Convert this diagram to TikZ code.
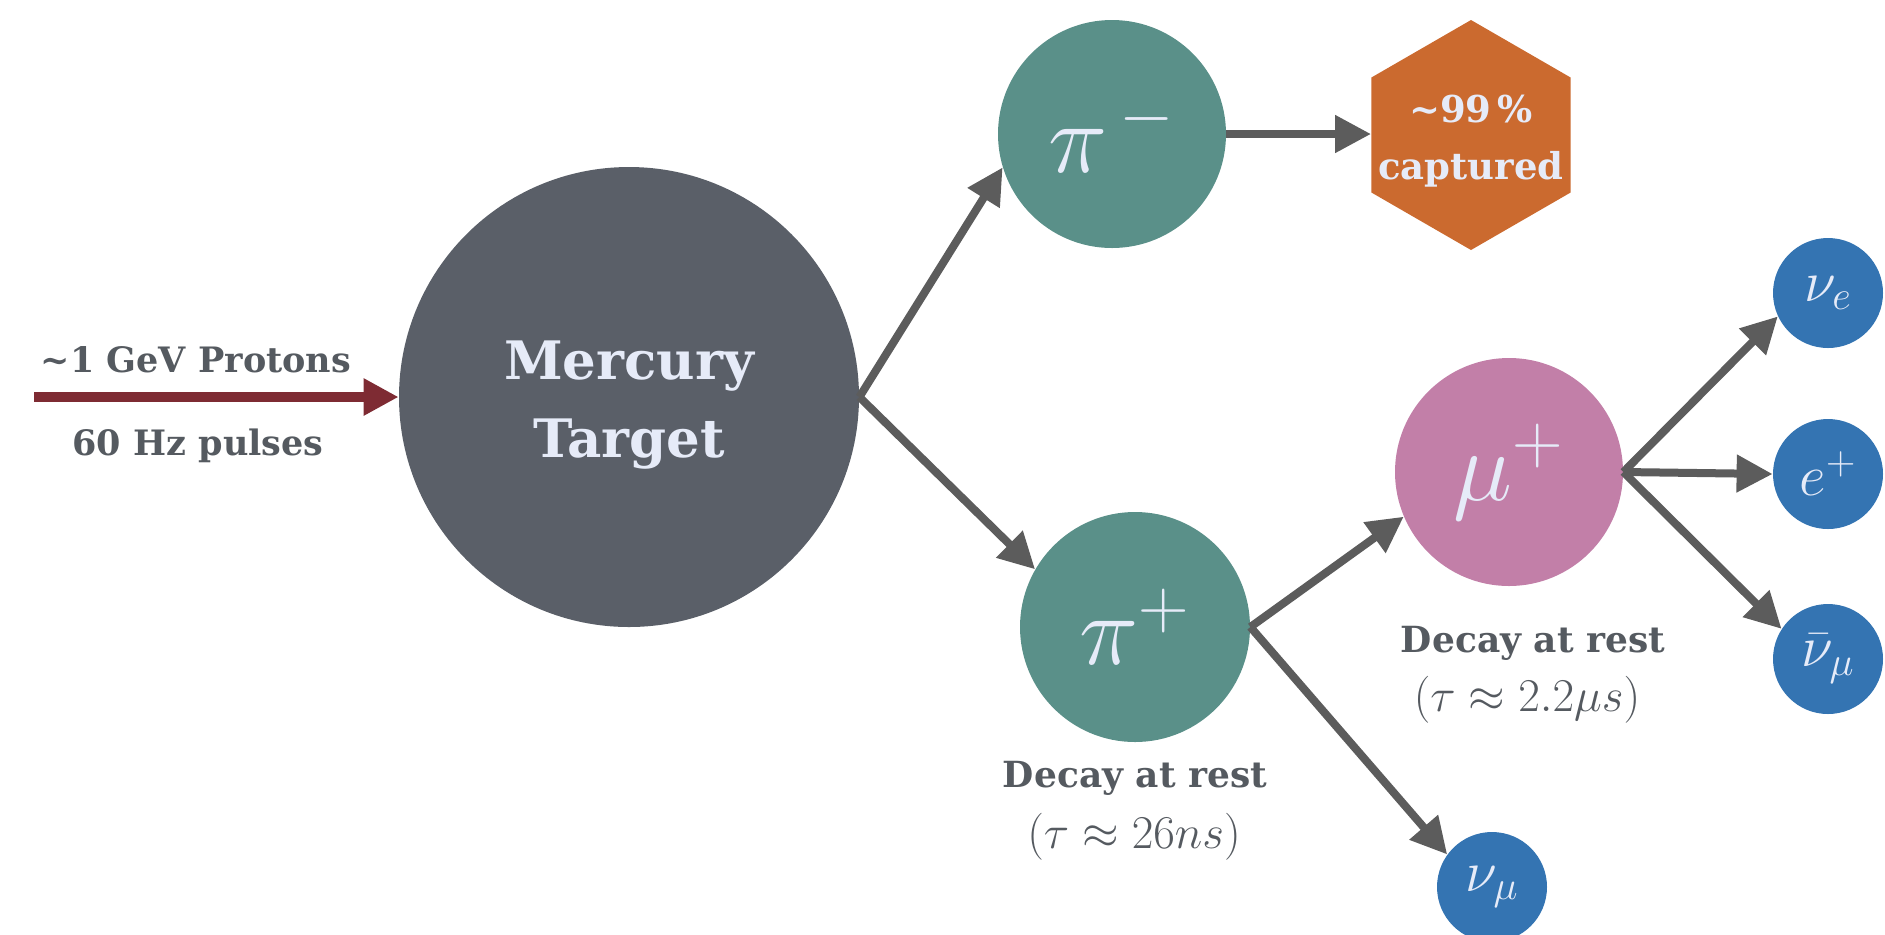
\RequirePackage{fix-cm}
\documentclass[tikz,border=0pt]{standalone}
\usepackage[no-math]{fontspec}
\setmainfont{DejaVu Serif}
\usetikzlibrary{arrows.meta}
\definecolor{mercfill}{HTML}{5A5F68}
\definecolor{tealfill}{HTML}{5A9089}
\definecolor{orangefill}{HTML}{CB6A2F}
\definecolor{pinkfill}{HTML}{C27FA8}
\definecolor{bluefill}{HTML}{3474B2}
\definecolor{arrgrey}{HTML}{5C5C5C}
\definecolor{redarr}{HTML}{7E2B33}
\definecolor{labgrey}{HTML}{555A60}
\definecolor{inktext}{HTML}{E6EBF8}
\begin{document}
\begin{tikzpicture}[x=0.5pt,y=-0.5pt,
  ball/.style={circle,inner sep=0pt,text=inktext},
  bigsym/.style={font=\fontsize{50}{50}\selectfont},
  smallsym/.style={font=\fontsize{29}{29}\selectfont},
  conn/.style={draw=arrgrey,line width=4pt,-{Triangle[length=18pt,width=18pt]}},
  lbl/.style={text=labgrey,inner sep=0pt,anchor=base},
  lbltext/.style={lbl,font=\fontsize{18}{18}\selectfont\bfseries},
  lblmath/.style={lbl,font=\fontsize{23.5}{23.5}\selectfont}]
\useasboundingbox (0,0) rectangle (1885,934);

% nodes
\node[ball,fill=mercfill,minimum size=230pt] (merc) at (629,397) {};
\node[text=inktext,align=center,inner sep=0pt,
      font=\fontsize{26.5}{39}\selectfont\bfseries] (mtxt) at (629,405) {Mercury\\Target};
\node[ball,fill=tealfill,minimum size=114pt,bigsym] (pim) at (1112,134) {$\pi^{\,-}$};
\coordinate (hexc) at (1471,135);
\fill[orangefill,shift={(hexc)}] (0,-115) -- (99.6,-57.5) -- (99.6,57.5) -- (0,115)
      -- (-99.6,57.5) -- (-99.6,-57.5) -- cycle;
\node[inner sep=0pt,minimum width=99.6pt,text=inktext,align=center,
      font=\fontsize{18.5}{28.5}\selectfont\bfseries] (hex) at (1471,141) {\textasciitilde99\,\%\\captured};
\node[ball,fill=tealfill,minimum size=115pt,bigsym] (pip) at (1135,627) {$\pi^{+}$};
\node[ball,fill=pinkfill,minimum size=114pt,bigsym] (mup) at (1509,472) {$\mu^{+}$};
\node[ball,fill=bluefill,minimum size=55pt,smallsym] (nue) at (1828,293) {$\nu_{e}$};
\node[ball,fill=bluefill,minimum size=55pt,smallsym] (ep) at (1828,474) {$e^{+}$};
\node[ball,fill=bluefill,minimum size=55pt,smallsym] (numub) at (1828,659) {$\bar{\nu}_{\mu}$};
\node[ball,fill=bluefill,minimum size=55pt,smallsym] (numu) at (1492,887) {$\nu_{\mu}$};

% labels
\node[lbl,font=\fontsize{17.5}{17.5}\selectfont\bfseries] (p1) at (196,372) {\textasciitilde1 GeV Protons};
\node[lbl,font=\fontsize{17.5}{17.5}\selectfont\bfseries] (p2) at (198,455) {60 Hz pulses};
\node[lbltext] (d1) at (1135,787) {Decay at rest};
\node[lblmath] (t1) at (1134,848) {$(\tau \approx 26ns)$};
\node[lbltext] (d2) at (1533,652) {Decay at rest};
\node[lblmath] (t2) at (1527,711) {$(\tau \approx 2.2\mu s)$};

% proton beam
\coordinate (pstart) at (34,397);
\draw[draw=redarr,line width=5pt,-{Triangle[length=17.5pt,width=17.5pt]}] (pstart) -- (merc.west);

% connectors
\draw[conn] (merc.east) -- (pim.197);
\draw[conn] (merc.east) -- (pip.150);
\draw[conn] (pim.east) -- (pim.east -| hex.west);
\draw[conn] (pip.east) -- (mup.203);
\draw[conn] (pip.east) -- (numu.144);
\draw[conn] (mup.east) -- (nue.205);
\draw[conn] (mup.east) -- (ep.west);
\draw[conn] (mup.east) -- (numub.147);
\end{tikzpicture}
\end{document}
